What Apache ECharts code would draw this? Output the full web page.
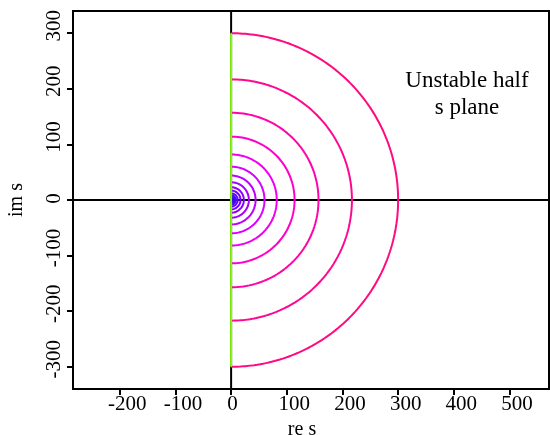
<!DOCTYPE html>
<html>
<head>
<meta charset="utf-8">
<script src="https://cdn.jsdelivr.net/npm/echarts@6/dist/echarts.min.js"></script>
<style>
  html, body { margin: 0; padding: 0; background: #fff; }
  #chart { width: 550px; height: 435px; }
</style>
</head>
<body>
<div id="chart"></div>
<script>
// Radii of the |s| = const contours in the right half plane (outer to inner)
const radii = [300, 217, 157, 114, 82, 60, 44, 32, 23, 17, 12, 8.5, 6, 4.5, 3, 2];
const radiusColors = ['#ff0a80', '#ff0890', '#ff04a8', '#ff00c8', '#f000f0', '#d800ff',
  '#c000ff', '#a800ff', '#9000ff', '#7800ff', '#6400ff', '#5400ff', '#4400ff', '#3400ff', '#2400ff', '#1400ff'];
// Imaginary-axis segment (stability boundary)
const jwSegment = [-300, 300];
// Axis ranges and tick labels
const xRange = [-284, 571];
const yRange = [-340, 340];
const xTicks = [-200, -100, 0, 100, 200, 300, 400, 500];
const yTicks = [-300, -200, -100, 0, 100, 200, 300];
const annotation = 'Unstable half\ns plane';

const serif = '"Liberation Serif", "DejaVu Serif", serif';

// Semicircle contour sampled over the right half plane
function semicircle(r) {
  const pts = [];
  const n = 180;
  for (let i = 0; i <= n; i++) {
    const a = -Math.PI / 2 + Math.PI * i / n;
    pts.push([r * Math.cos(a), r * Math.sin(a)]);
  }
  return pts;
}

const series = [];
// zero lines
series.push({
  type: 'line', data: [[xRange[0], 0], [xRange[1], 0]], symbol: 'none',
  lineStyle: { color: '#000', width: 2 }, silent: true, z: 1
});
series.push({
  type: 'line', data: [[0, yRange[0]], [0, yRange[1]]], symbol: 'none',
  lineStyle: { color: '#000', width: 2 }, silent: true, z: 1
});
radii.forEach((r, i) => {
  series.push({
    type: 'line', data: semicircle(r), symbol: 'none', smooth: false,
    lineStyle: { color: radiusColors[i], width: 2 }, silent: true, z: 2
  });
});
series.push({
  type: 'line', data: [[0, jwSegment[0]], [0, jwSegment[1]]], symbol: 'none',
  lineStyle: { color: '#80ff00', width: 2 }, silent: true, z: 3
});

// tick labels: non-zero values sit slightly past their tick
const tickText = { fontFamily: serif, fontSize: 21, color: '#000' };
const tickRich = {
  n: Object.assign({ padding: [0, 0, 0, 15] }, tickText),
  z: Object.assign({ padding: [0, 0, 0, 3] }, tickText)
};
const tickFormatter = v => (v === 0 ? '{z|0}' : '{n|' + v + '}');

const chart = echarts.init(document.getElementById('chart'), null, { renderer: 'canvas' });
chart.setOption({
  animation: false,
  backgroundColor: '#fff',
  grid: {
    left: 73, right: 1, top: 11, bottom: 46,
    outerBoundsMode: 'none', containLabel: false,
    show: true, borderColor: '#000', borderWidth: 2, backgroundColor: 'transparent'
  },
  xAxis: {
    type: 'value', min: xRange[0], max: xRange[1],
    name: 're s', nameLocation: 'middle', nameGap: 31,
    nameTextStyle: { fontFamily: serif, fontSize: 20, color: '#000', padding: [0, 18, 0, 0] },
    axisLine: { show: true, onZero: false, lineStyle: { color: '#000', width: 2 } },
    axisTick: { show: true, customValues: xTicks, length: 6, lineStyle: { color: '#000', width: 2 } },
    axisLabel: Object.assign({
      customValues: xTicks, margin: 5, formatter: tickFormatter, rich: tickRich
    }, tickText),
    splitLine: { show: false }
  },
  yAxis: {
    type: 'value', min: yRange[0], max: yRange[1],
    name: 'im s', nameLocation: 'middle', nameGap: 46, nameRotate: 90,
    nameTextStyle: { fontFamily: serif, fontSize: 20, color: '#000' },
    axisLine: { show: true, onZero: false, lineStyle: { color: '#000', width: 2 } },
    axisTick: { show: true, customValues: yTicks, length: 6, lineStyle: { color: '#000', width: 2 } },
    axisLabel: Object.assign({
      customValues: yTicks, rotate: 90, margin: 8, formatter: tickFormatter, rich: tickRich
    }, tickText),
    splitLine: { show: false }
  },
  graphic: [{
    type: 'text',
    style: {
      x: 467, y: 67, text: annotation, font: '23px ' + serif, fill: '#000',
      align: 'center', verticalAlign: 'top', lineHeight: 27
    }
  }],
  series: series
});
</script>
</body>
</html>
